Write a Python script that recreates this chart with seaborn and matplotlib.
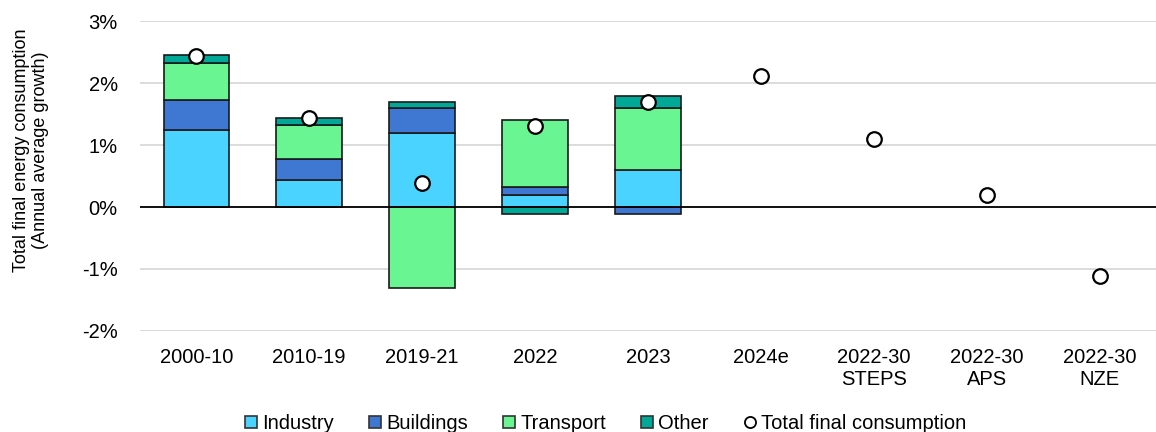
import matplotlib
matplotlib.use("Agg")
import matplotlib.pyplot as plt
import seaborn as sns
import numpy as np
from matplotlib.lines import Line2D

# categories and values (% annual average growth)
categories = ["2000-10", "2010-19", "2019-21", "2022", "2023", "2024e",
              "2022-30\nSTEPS", "2022-30\nAPS", "2022-30\nNZE"]
bar_categories = categories[:5]  # only historical periods have a breakdown
industry = [1.25, 0.43, 1.20, 0.19, 0.60]
buildings = [0.48, 0.34, 0.40, 0.13, -0.11]
transport = [0.60, 0.56, -1.31, 1.08, 1.00]
other = [0.12, 0.10, 0.10, -0.11, 0.20]
total = [2.43, 1.43, 0.39, 1.30, 1.70, 2.11, 1.10, 0.19, -1.11]

series = [("Industry", industry, "#4AD3FF"),
          ("Buildings", buildings, "#3F78D2"),
          ("Transport", transport, "#69F591"),
          ("Other", other, "#00A898")]

sns.set_theme(style="white")
plt.rcParams["font.family"] = ["Liberation Sans", "DejaVu Sans"]
plt.rcParams["text.color"] = "black"
plt.rcParams["xtick.color"] = "black"
plt.rcParams["ytick.color"] = "black"
plt.rcParams["axes.labelcolor"] = "black"
fs = 14.5

fig, ax = plt.subplots(figsize=(11.56, 4.32), dpi=100)

pos_base = np.zeros(len(bar_categories))
neg_base = np.zeros(len(bar_categories))
for name, vals, col in series:
    v = np.array(vals, dtype=float)
    bottom = np.where(v >= 0, pos_base, neg_base)
    sns.barplot(x=bar_categories, y=v, bottom=bottom, color=col, order=categories,
                edgecolor="#1a1a1a", linewidth=1.2, width=0.58, ax=ax,
                saturation=1, zorder=3)
    pos_base = pos_base + np.where(v > 0, v, 0)
    neg_base = neg_base + np.where(v < 0, v, 0)

sns.stripplot(x=categories, y=total, order=categories, jitter=False,
              color="white", edgecolor="black", linewidth=1.6, size=10.5,
              ax=ax, zorder=5)

ax.set_ylim(-2, 3)
ax.set_xlim(-0.5, len(categories) - 0.5)
ax.set_yticks([-2, -1, 0, 1, 2, 3])
ax.set_yticklabels(["-2%", "-1%", "0%", "1%", "2%", "3%"], fontsize=fs)
ax.tick_params(axis="x", labelsize=fs, length=0, pad=12)
ax.tick_params(axis="y", length=0, pad=16)
ax.yaxis.grid(True, color="#d9d9d9", linewidth=1.3, zorder=0)
ax.set_axisbelow(True)
ax.axhline(0, color="black", linewidth=1.3, zorder=4)
sns.despine(ax=ax, left=True, bottom=True)
ax.set_ylabel("Total final energy consumption\n(Annual average growth)",
              fontsize=13, linespacing=1.15)
ax.yaxis.set_label_coords(-0.089, 0.584)

handles = [Line2D([0], [0], marker="s", linestyle="none", markersize=8,
                  markerfacecolor=col, markeredgecolor="#333333",
                  markeredgewidth=1.2, label=name) for name, _, col in series]
handles.append(Line2D([0], [0], marker="o", linestyle="none", markersize=8,
                      markerfacecolor="white", markeredgecolor="black",
                      markeredgewidth=1.3, label="Total final consumption"))
fig.legend(handles=handles, loc="lower center", bbox_to_anchor=(0.522, -0.026),
           ncol=5, frameon=False, fontsize=fs, handletextpad=0.05,
           columnspacing=1.55, handlelength=1.0, borderpad=0)

fig.subplots_adjust(left=0.121, right=1.0, top=0.951, bottom=0.234)
fig.savefig("out.png", dpi=100)
